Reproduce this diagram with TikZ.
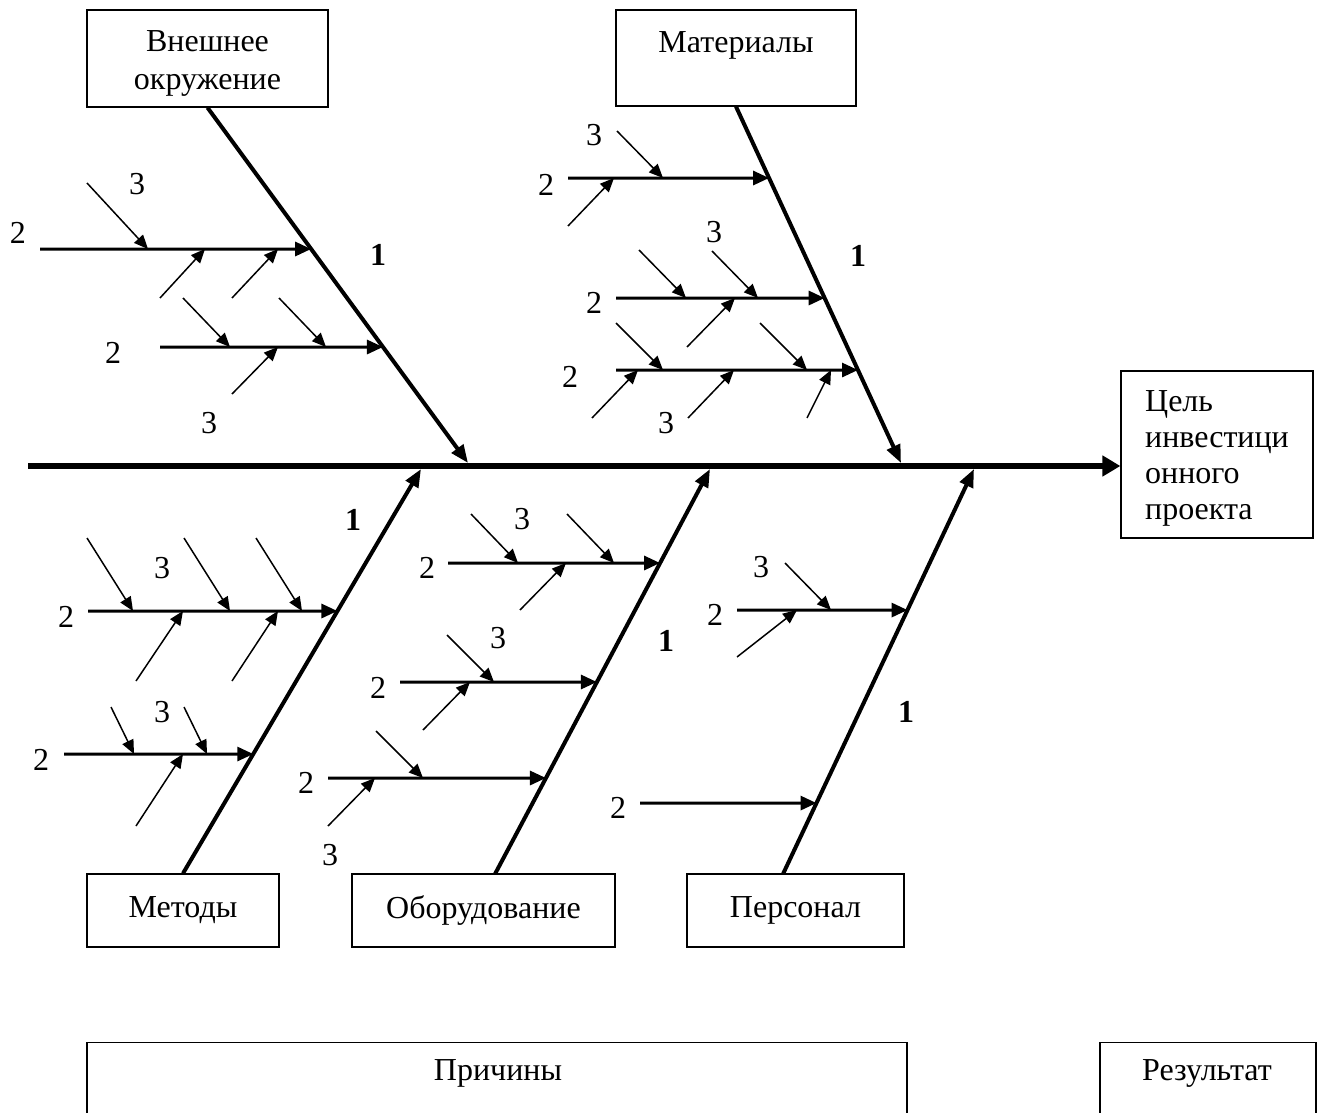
\documentclass[tikz,border=0pt]{standalone}
\usepackage{fontspec}
\setmainfont{Liberation Serif}
\usetikzlibrary{arrows.meta,calc}

\tikzset{
  box/.style={draw, line width=0.6pt, inner sep=0pt, align=center},
  spine/.style={line width=3.4pt, -{Triangle[length=9pt,width=10pt]}},
  bone/.style={line width=2pt, -{Triangle[length=9pt,width=7pt]}},
  rib/.style={line width=1.5pt, -{Triangle[length=8pt,width=7pt]}},
  twig/.style={line width=0.75pt, -{Triangle[length=7pt,width=6pt]}},
  num/.style={inner sep=0pt},
  lvl/.style={inner sep=0pt, font=\fontsize{16}{18}\selectfont\bfseries},
}

% rib: name, bone, x of the free end, y of the rib; it ends on the bone
\newcommand\rib[4]{%
  \coordinate (#1s) at (#3,#4);
  \coordinate (#1e) at (intersection of #2S--#2E and 0,#4--1,#4);
  \draw[rib] (#1s) -- (#1e);}
% twig: name, free end, x where it meets the rib, rib name
\newcommand\twig[4]{%
  \coordinate (#1s) at (#2);
  \coordinate (#1e) at (#3,0 |- #4s);
  \draw[twig] (#1s) -- (#1e);}

\begin{document}
\begin{tikzpicture}[x=0.5pt, y=-0.5pt, font=\fontsize{16}{18}\selectfont]
\clip (0,0) rectangle (1317,1113);

% category boxes
\node[box, minimum width=120.5pt, minimum height=48.5pt,
      font=\fontsize{16}{19}\selectfont] (env) at (207.5,58.5) {\rule{0pt}{15pt}Внешнее\\окружение};
\node[box, minimum width=120pt, minimum height=48pt] (mat) at (736,58) {\rule{0pt}{13pt}Материалы\\\mbox{}};
\node[box, minimum width=96pt, minimum height=36.5pt] (met) at (183,910.5) {Методы};
\node[box, minimum width=131.5pt, minimum height=36.5pt] (equ) at (483.5,910.5) {Оборудование};
\node[box, minimum width=108.5pt, minimum height=36.5pt] (per) at (795.5,910.5) {Персонал};

% effect box
\node[box, align=left, minimum width=96pt, minimum height=83.5pt] (goal) at (1217,454.5)
  {\rule{0pt}{14.6pt}Цель\\инвестици\\онного\\проекта};

% legend boxes
\node[box, minimum width=410pt, minimum height=50pt, anchor=north] (causes) at (497,1042) {};
\node (causeslbl) at (498,1073) {Причины};
\node[box, minimum width=108pt, minimum height=50pt, anchor=north] (result) at (1208,1042) {};
\node (resultlbl) at (1207,1073) {Результат};

% spine
\coordinate (sp0) at (28,466);
\draw[spine] (sp0) -- (sp0 -| goal.west);

% main bones
\coordinate (envS) at (env.south);  \coordinate (envE) at (468,463);
\coordinate (matS) at (mat.south);  \coordinate (matE) at (901,463);
\coordinate (metS) at (met.north);  \coordinate (metE) at (421,469);
\coordinate (equS) at (495,874);    \coordinate (equE) at (710,469);
\coordinate (perS) at (783,874);    \coordinate (perE) at (974,469);
\foreach \b in {env,mat,met,equ,per} \draw[bone] (\b S) -- (\b E);

\node[lvl] (n1env) at (378,255) {1};
\node[lvl] (n1mat) at (858,256) {1};
\node[lvl] (n1met) at (353,520) {1};
\node[lvl] (n1equ) at (666,641) {1};
\node[lvl] (n1per) at (906,712) {1};

% second-level causes
\rib{E1}{env}{40}{249}
\rib{E2}{env}{160}{347}
\rib{M1}{mat}{568}{178}
\rib{M2}{mat}{616}{298}
\rib{M3}{mat}{616}{370}
\rib{T1}{met}{88}{611}
\rib{T2}{met}{64}{754}
\rib{Q1}{equ}{448}{563}
\rib{Q2}{equ}{400}{682}
\rib{Q3}{equ}{328}{778}
\rib{P1}{per}{737}{610}
\rib{P2}{per}{640}{803}

\node[num] (n2e1) at (18,233) {2};
\node[num] (n2e2) at (113,353) {2};
\node[num] (n2m1) at (546,185) {2};
\node[num] (n2m2) at (594,303) {2};
\node[num] (n2m3) at (570,377) {2};
\node[num] (n2t1) at (66,617) {2};
\node[num] (n2t2) at (41,760) {2};
\node[num] (n2q1) at (427,568) {2};
\node[num] (n2q2) at (378,688) {2};
\node[num] (n2q3) at (306,783) {2};
\node[num] (n2p1) at (715,615) {2};
\node[num] (n2p2) at (618,808) {2};

% third-level causes
\twig{e1a}{87,183}{148}{E1}
\twig{e1b}{160,298}{205}{E1}
\twig{e1c}{232,298}{278}{E1}
\twig{e2a}{183,298}{230}{E2}
\twig{e2b}{279,298}{326}{E2}
\twig{e2c}{232,394}{278}{E2}

\twig{m1a}{617,131}{663}{M1}
\twig{m1b}{568,226}{614}{M1}
\twig{m2a}{639,250}{686}{M2}
\twig{m2b}{712,251}{758}{M2}
\twig{m2c}{687,347}{735}{M2}
\twig{m3a}{616,323}{663}{M3}
\twig{m3b}{760,323}{807}{M3}
\twig{m3c}{592,418}{638}{M3}
\twig{m3d}{688,418}{734}{M3}
\twig{m3e}{807,418}{831}{M3}

\twig{t1a}{87,538}{133}{T1}
\twig{t1b}{184,538}{230}{T1}
\twig{t1c}{256,538}{302}{T1}
\twig{t1d}{136,681}{183}{T1}
\twig{t1e}{232,681}{278}{T1}
\twig{t2a}{111,707}{134}{T2}
\twig{t2b}{184,707}{207}{T2}
\twig{t2c}{136,826}{183}{T2}

\twig{q1a}{471,514}{518}{Q1}
\twig{q1b}{567,514}{614}{Q1}
\twig{q1c}{520,610}{566}{Q1}
\twig{q2a}{447,635}{494}{Q2}
\twig{q2b}{423,730}{470}{Q2}
\twig{q3a}{376,731}{423}{Q3}
\twig{q3b}{328,826}{375}{Q3}

\twig{p1a}{785,563}{831}{P1}
\twig{p1b}{737,657}{797}{P1}

\node[num] (n3e1) at (137,184) {3};
\node[num] (n3e2) at (209,423) {3};
\node[num] (n3m1) at (594,135) {3};
\node[num] (n3m2) at (714,232) {3};
\node[num] (n3m3) at (666,423) {3};
\node[num] (n3t1) at (162,568) {3};
\node[num] (n3t2) at (162,712) {3};
\node[num] (n3q1) at (522,519) {3};
\node[num] (n3q2) at (498,638) {3};
\node[num] (n3q3) at (330,855) {3};
\node[num] (n3p1) at (761,567) {3};
\end{tikzpicture}
\end{document}
